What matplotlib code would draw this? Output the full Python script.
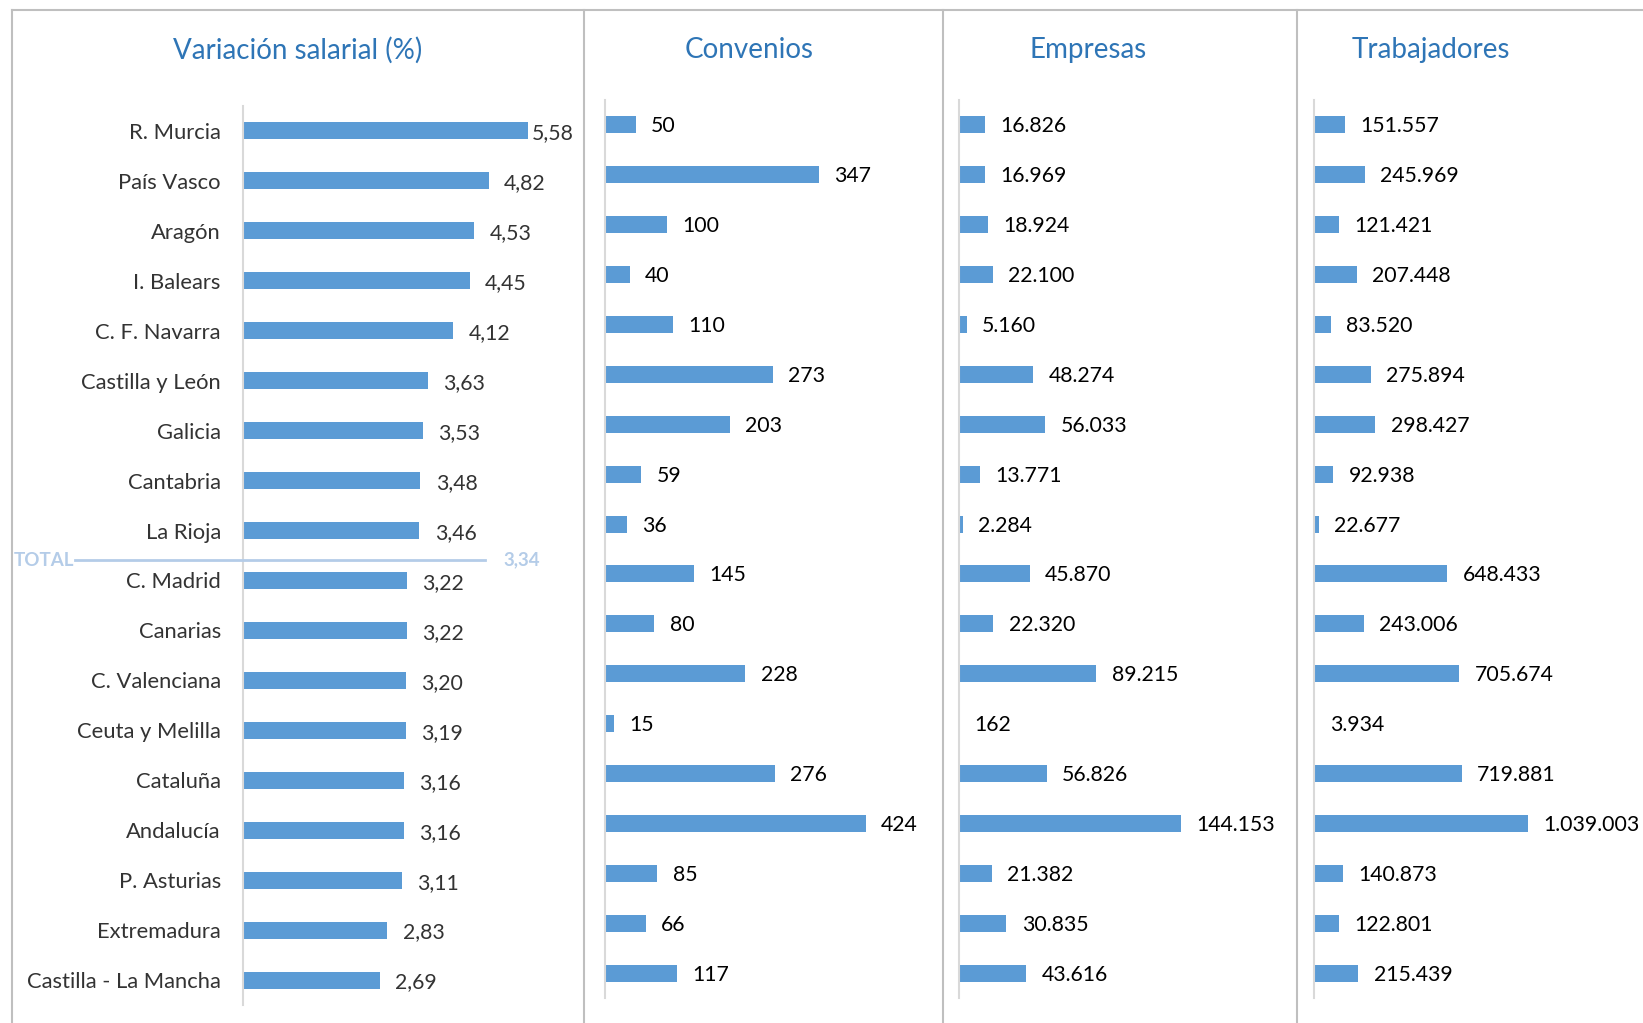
import matplotlib.pyplot as plt
from matplotlib.lines import Line2D

regions = ["R. Murcia", "País Vasco", "Aragón", "I. Balears", "C. F. Navarra",
           "Castilla y León", "Galicia", "Cantabria", "La Rioja", "C. Madrid",
           "Canarias", "C. Valenciana", "Ceuta y Melilla", "Cataluña", "Andalucía",
           "P. Asturias", "Extremadura", "Castilla - La Mancha"]
variacion = [5.58, 4.82, 4.53, 4.45, 4.12, 3.63, 3.53, 3.48, 3.46, 3.22, 3.22,
             3.20, 3.19, 3.16, 3.16, 3.11, 2.83, 2.69]
convenios = [50, 347, 100, 40, 110, 273, 203, 59, 36, 145, 80, 228, 15, 276,
             424, 85, 66, 117]
empresas = [16826, 16969, 18924, 22100, 5160, 48274, 56033, 13771, 2284, 45870,
            22320, 89215, 162, 56826, 144153, 21382, 30835, 43616]
trabajadores = [151557, 245969, 121421, 207448, 83520, 275894, 298427, 92938,
                22677, 648433, 243006, 705674, 3934, 719881, 1039003, 140873,
                122801, 215439]
total = 3.34

BAR = "#5B9BD5"
TITLE = "#2E75B6"
LIGHT = "#B4CCE8"
plt.rcParams['font.family'] = ['Lato', 'DejaVu Sans']

W, H = 1643, 1023
fig = plt.figure(figsize=(W / 100, H / 100), dpi=100)


def box(x0, y0, x1, y1):
    return [x0 / W, 1 - y1 / H, (x1 - x0) / W, (y1 - y0) / H]


def fmt_miles(v):
    return "{:,}".format(v).replace(",", ".")


def fmt_dec(v):
    return "{:.2f}".format(v).replace(".", ",")


def panel(rect, values, xmax, labels):
    ax = fig.add_axes(rect)
    y = list(range(len(values)))
    ax.barh(y, values, height=0.34, color=BAR)
    ax.set_xlim(0, xmax)
    ax.set_ylim(len(values) - 0.5, -0.5)
    for s in ["top", "right", "bottom"]:
        ax.spines[s].set_visible(False)
    ax.spines["left"].set_color("#D9D9D9")
    ax.spines["left"].set_linewidth(1.5)
    ax.set_xticks([])
    ax.set_yticks([])
    ax.patch.set_alpha(0)
    for yi, v, t in zip(y, values, labels):
        ax.annotate(t, (v, yi + 0.03), xytext=(11, 0), textcoords="offset points",
                    va="center", ha="left", fontsize=15.3, color="black")
    return ax


# Variación salarial
ax1 = fig.add_axes(box(243, 106, 560, 1005))
y = list(range(len(variacion)))
ax1.barh(y, variacion, height=0.34, color=BAR)
ax1.set_xlim(0, 317 / 51.0)
ax1.set_ylim(len(variacion) - 0.5, -0.5)
for s in ["top", "right", "bottom"]:
    ax1.spines[s].set_visible(False)
ax1.spines["left"].set_color("#D9D9D9")
ax1.spines["left"].set_linewidth(1.5)
ax1.set_xticks([])
ax1.set_yticks(y)
ax1.set_yticklabels(regions, fontsize=15.8, color="#333333")
ax1.tick_params(axis="y", length=0, pad=16)
for yi, v in zip(y, variacion):
    pad = 3 if v == max(variacion) else 11
    ax1.annotate(fmt_dec(v), (v, yi + 0.05), xytext=(pad, 0), textcoords="offset points",
                 va="center", ha="left", fontsize=15.3, color="#333333")

# TOTAL line
ty = 1 - 560 / H
fig.add_artist(Line2D([75 / W, 485 / W], [ty, ty], color=LIGHT, lw=2))
fig.text(14 / W, ty, "TOTAL", color=LIGHT, fontsize=13.5, fontweight="bold",
         va="center", ha="left")
fig.text(503 / W, ty, fmt_dec(total), color=LIGHT, fontsize=13.5, fontweight="bold",
         va="center", ha="left")

panel(box(605, 100, 930, 998), convenios, 528, [fmt_miles(v) for v in convenios])
panel(box(959, 100, 1285, 998), empresas, 211700, [fmt_miles(v) for v in empresas])
panel(box(1314, 100, 1643, 998), trabajadores, 1.6e6, [fmt_miles(v) for v in trabajadores])

# titles
for x, t in [(298, "Variación salarial (%)"), (749, "Convenios"),
             (1088, "Empresas"), (1431, "Trabajadores")]:
    fig.text(x / W, 1 - 50 / H, t, color=TITLE, fontsize=20, ha="center", va="center")

# frame
frame = "#BFBFBF"
fig.add_artist(Line2D([12 / W, 1], [1 - 10 / H, 1 - 10 / H], color=frame, lw=1.5))
for x in [12, 584, 943, 1297]:
    fig.add_artist(Line2D([x / W, x / W], [0, 1 - 10 / H], color=frame, lw=1.5))

fig.savefig("out.png", dpi=100)
